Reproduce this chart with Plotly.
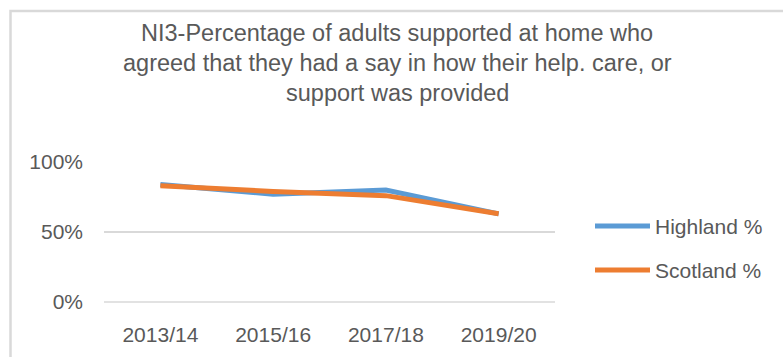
import plotly.graph_objects as go

# Survey years and results (share of respondents who agreed)
years = ["2013/14", "2015/16", "2017/18", "2019/20"]
highland_pct = [0.84, 0.77, 0.80, 0.63]
scotland_pct = [0.83, 0.79, 0.76, 0.63]
series_names = ["Highland %", "Scotland %"]
series_colors = ["#5B9BD5", "#ED7D31"]
title_lines = [
    "NI3-Percentage of adults supported at home who",
    "agreed that they had a say in how their help. care, or",
    "support was provided",
]
y_ticks = [0, 0.5, 1.0]
y_tick_labels = ["0%", "50%", "100%"]

W, H = 783, 357
# plot area in pixels
L, R, T, B = 104, 555, 162, 302
FONT = "Liberation Sans"
TXT = "#595959"
GRID = "#D9D9D9"


def px_x(p):
    return (p - L) / (R - L)


def px_y(p):
    return (B - p) / (B - T)


fig = go.Figure()
for name, vals, col in zip(series_names, [highland_pct, scotland_pct], series_colors):
    fig.add_trace(go.Scatter(
        x=years, y=vals, name=name, mode="lines",
        line=dict(color=col, width=5), showlegend=False,
    ))

shapes = [
    # outer chart frame
    dict(type="rect", xref="paper", yref="paper",
         x0=px_x(10.5), x1=px_x(795), y0=px_y(370), y1=px_y(11),
         line=dict(color=GRID, width=2.5), fillcolor="rgba(0,0,0,0)", layer="below"),
    # axis line at 0%
    dict(type="line", xref="paper", yref="paper", x0=0, x1=1, y0=0, y1=0,
         line=dict(color=GRID, width=1.5), layer="below"),
]
annotations = []
# legend swatches and labels
for i, (name, col) in enumerate(zip(series_names, series_colors)):
    yc = [226, 270][i]
    shapes.append(dict(type="line", xref="paper", yref="paper",
                       x0=px_x(595), x1=px_x(650), y0=px_y(yc), y1=px_y(yc),
                       line=dict(color=col, width=5)))
    annotations.append(dict(xref="paper", yref="paper", x=px_x(653), y=px_y(yc),
                            text=name, showarrow=False, xanchor="left", yanchor="middle",
                            font=dict(family=FONT, size=21, color=TXT)))
# title lines
for i, line in enumerate(title_lines):
    annotations.append(dict(xref="paper", yref="paper", x=px_x(397), y=px_y(33 + 30 * i),
                            text=line, showarrow=False, xanchor="center", yanchor="middle",
                            font=dict(family=FONT, size=23.5, color=TXT)))

fig.update_layout(
    width=W, height=H,
    margin=dict(l=L, r=W - R, t=T, b=H - B, pad=0),
    paper_bgcolor="white", plot_bgcolor="white",
    showlegend=False,
    shapes=shapes, annotations=annotations,
    xaxis=dict(type="category", range=[-0.5, 3.5], showgrid=False, zeroline=False,
               showline=False, ticks="", tickfont=dict(family=FONT, size=21, color=TXT),
               ticklabelstandoff=18),
    yaxis=dict(range=[0, 1.0005], tickvals=y_ticks, ticktext=y_tick_labels,
               showgrid=True, gridcolor=GRID, gridwidth=1.5, zeroline=False,
               showline=False, ticks="", ticklabelstandoff=20,
               tickfont=dict(family=FONT, size=21, color=TXT)),
)

fig.write_html("out.html")
